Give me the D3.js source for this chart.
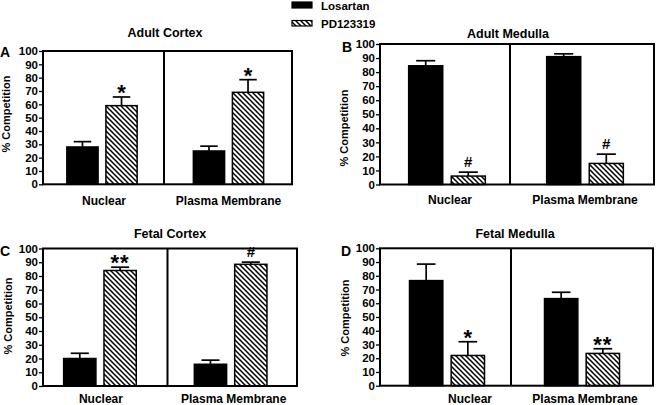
<!DOCTYPE html>
<html><head><meta charset="utf-8">
<script src="https://cdn.jsdelivr.net/npm/d3@7"></script>
<style>
html,body{margin:0;padding:0;background:#fff;}
text{font-family:"Liberation Sans",Arial,sans-serif;font-weight:bold;fill:#000;}
</style></head>
<body>
<svg id="chart" width="656" height="405"></svg>
<script>
// ---------- data ----------
const categories = ["Nuclear", "Plasma Membrane"];
const series = ["Losartan", "PD123319"];
const panelTitles = ["Adult Cortex", "Adult Medulla", "Fetal Cortex", "Fetal Medulla"];
const panelLetters = ["A", "B", "C", "D"];
const yTicks = [0, 10, 20, 30, 40, 50, 60, 70, 80, 90, 100];
const yLabel = "% Competition";
// values per panel: [Nuclear, Plasma Membrane]
const losartanMean = [[28, 25], [84.5, 91], [20, 15.8], [76.5, 63.4]];
const losartanSem  = [[4, 3.6], [3.6, 2], [3.8, 3], [12, 4.6]];
const pdMean       = [[59, 69], [6, 15], [84, 88.5], [22, 23.5]];
const pdSem        = [[6.5, 9.5], [2.8, 6.6], [2.4, 1.6], [10, 3.4]];
const pdSig        = [["*", "*"], ["#", "#"], ["**", "#"], ["*", "**"]];

// ---------- layout ----------
const layout = [
  {x0: 43, x1: 292, div: 164, yT: 51, yB: 184.3, band: [38.75, 291.75], title: [165, 37], letter: [0, 57], ylab: [10, 114], cat: [205, 2, 0]},
  {x0: 380, x1: 654, div: 510, yT: 44, yB: 184.5, band: [378, 654], title: [508, 38], letter: [342, 52], ylab: [348, 128], cat: [204, 3, 0]},
  {x0: 43, x1: 297, div: 167.5, yT: 248.5, yB: 386, band: [34.6, 296], title: [170, 238], letter: [0, 256], ylab: [12, 316], cat: [403, 1, 3]},
  {x0: 380, x1: 653, div: 511, yT: 248.3, yB: 385.7, band: [379.5, 649.5], title: [515, 238], letter: [341, 256], ylab: [349, 318], cat: [403, 23, 3]}
];

const svg = d3.select("#chart");
const defs = svg.append("defs");
const pat = defs.append("pattern").attr("id", "hatch").attr("patternUnits", "userSpaceOnUse")
  .attr("width", 5).attr("height", 5);
pat.append("rect").attr("width", 5).attr("height", 5).attr("fill", "#fff");
pat.append("path").attr("d", "M-1,-1L6,6M-1,4L1,6M4,-1L6,1")
  .attr("stroke", "#000").attr("stroke-width", 1.5);

const fillFor = s => s === "Losartan" ? "#000" : "url(#hatch)";

panelTitles.forEach((title, pi) => {
  const L = layout[pi];
  const g = svg.append("g");
  const y = d3.scaleLinear().domain([0, 100]).range([L.yB, L.yT]);
  const xg = d3.scaleBand().domain(categories).range(L.band);
  const xs = d3.scaleBand().domain(series).range([0, xg.bandwidth()]).paddingInner(0.2).paddingOuter(0.72);

  const rows = [];
  categories.forEach((c, ci) => {
    rows.push({cat: c, s: "Losartan", v: losartanMean[pi][ci], e: losartanSem[pi][ci], sig: ""});
    rows.push({cat: c, s: "PD123319", v: pdMean[pi][ci], e: pdSem[pi][ci], sig: pdSig[pi][ci]});
  });

  // error bars
  const bw = xs.bandwidth();
  const eb = g.selectAll(".err").data(rows).enter().append("g");
  eb.append("line")
    .attr("x1", d => xg(d.cat) + xs(d.s) + bw / 2).attr("x2", d => xg(d.cat) + xs(d.s) + bw / 2)
    .attr("y1", d => y(d.v)).attr("y2", d => y(d.v + d.e))
    .attr("stroke", "#000").attr("stroke-width", 1.7);
  eb.append("line")
    .attr("x1", d => xg(d.cat) + xs(d.s) + bw / 2 - bw * 0.28).attr("x2", d => xg(d.cat) + xs(d.s) + bw / 2 + bw * 0.28)
    .attr("y1", d => y(d.v + d.e)).attr("y2", d => y(d.v + d.e))
    .attr("stroke", "#000").attr("stroke-width", 1.7);

  // bars
  g.selectAll(".bar").data(rows).enter().append("rect")
    .attr("x", d => xg(d.cat) + xs(d.s))
    .attr("y", d => y(d.v))
    .attr("width", bw)
    .attr("height", d => y(0) - y(d.v))
    .attr("fill", d => fillFor(d.s))
    .attr("stroke", "#000").attr("stroke-width", 1.5);

  // significance markers
  g.selectAll(".sig").data(rows.filter(d => d.sig)).enter().append("text")
    .attr("x", d => xg(d.cat) + xs(d.s) + bw / 2)
    .attr("y", d => y(d.v + d.e) + (d.sig === "#" ? -5 : 3))
    .attr("text-anchor", "middle")
    .style("font-size", d => d.sig === "#" ? "15px" : "22px")
    .style("letter-spacing", d => d.sig === "**" ? "1px" : null)
    .text(d => d.sig);

  // frame
  g.append("rect").attr("x", L.x0).attr("y", L.yT).attr("width", L.x1 - L.x0).attr("height", L.yB - L.yT)
    .attr("fill", "none").attr("stroke", "#000").attr("stroke-width", 2);
  g.append("line").attr("x1", L.div).attr("x2", L.div).attr("y1", L.yT).attr("y2", L.yB)
    .attr("stroke", "#000").attr("stroke-width", 2);

  // y axis
  const ax = g.append("g").attr("transform", `translate(${L.x0},0)`)
    .call(d3.axisLeft(y).tickValues(yTicks).tickSize(4).tickPadding(1));
  ax.select(".domain").remove();
  ax.selectAll("line").attr("stroke", "#000").attr("stroke-width", 1.3);
  ax.selectAll("text").style("font-size", "11.5px").attr("font-family", null).attr("fill", "#000");

  // category labels
  g.selectAll(".cat").data(categories).enter().append("text")
    .attr("x", (c, i) => xg(c) + xg.bandwidth() / 2 + (i === 0 ? L.cat[1] : L.cat[2]))
    .attr("y", L.cat[0]).attr("text-anchor", "middle").style("font-size", "12px").text(c => c);

  // title
  g.append("text").attr("x", L.title[0]).attr("y", L.title[1]).attr("text-anchor", "middle")
    .style("font-size", "12.5px").text(title);
  // letter
  g.append("text").attr("x", L.letter[0]).attr("y", L.letter[1]).style("font-size", "14px").text(panelLetters[pi]);
  // y label
  g.append("text").attr("transform", `translate(${L.ylab[0]},${L.ylab[1]}) rotate(-90)`)
    .attr("text-anchor", "middle").style("font-size", "11px").text(yLabel);
});

// legend
const leg = svg.append("g");
const legRows = [{s: "Losartan", y: 2, h: 6, ty: 10}, {s: "PD123319", y: 20.5, h: 5.5, ty: 27.5}];
legRows.forEach(r => {
  leg.append("rect").attr("x", 292).attr("y", r.y).attr("width", 20).attr("height", r.h)
    .attr("fill", fillFor(r.s)).attr("stroke", "#000").attr("stroke-width", 1.2);
  leg.append("text").attr("x", 321).attr("y", r.ty).style("font-size", "11.5px").text(r.s);
});
</script>
</body></html>
